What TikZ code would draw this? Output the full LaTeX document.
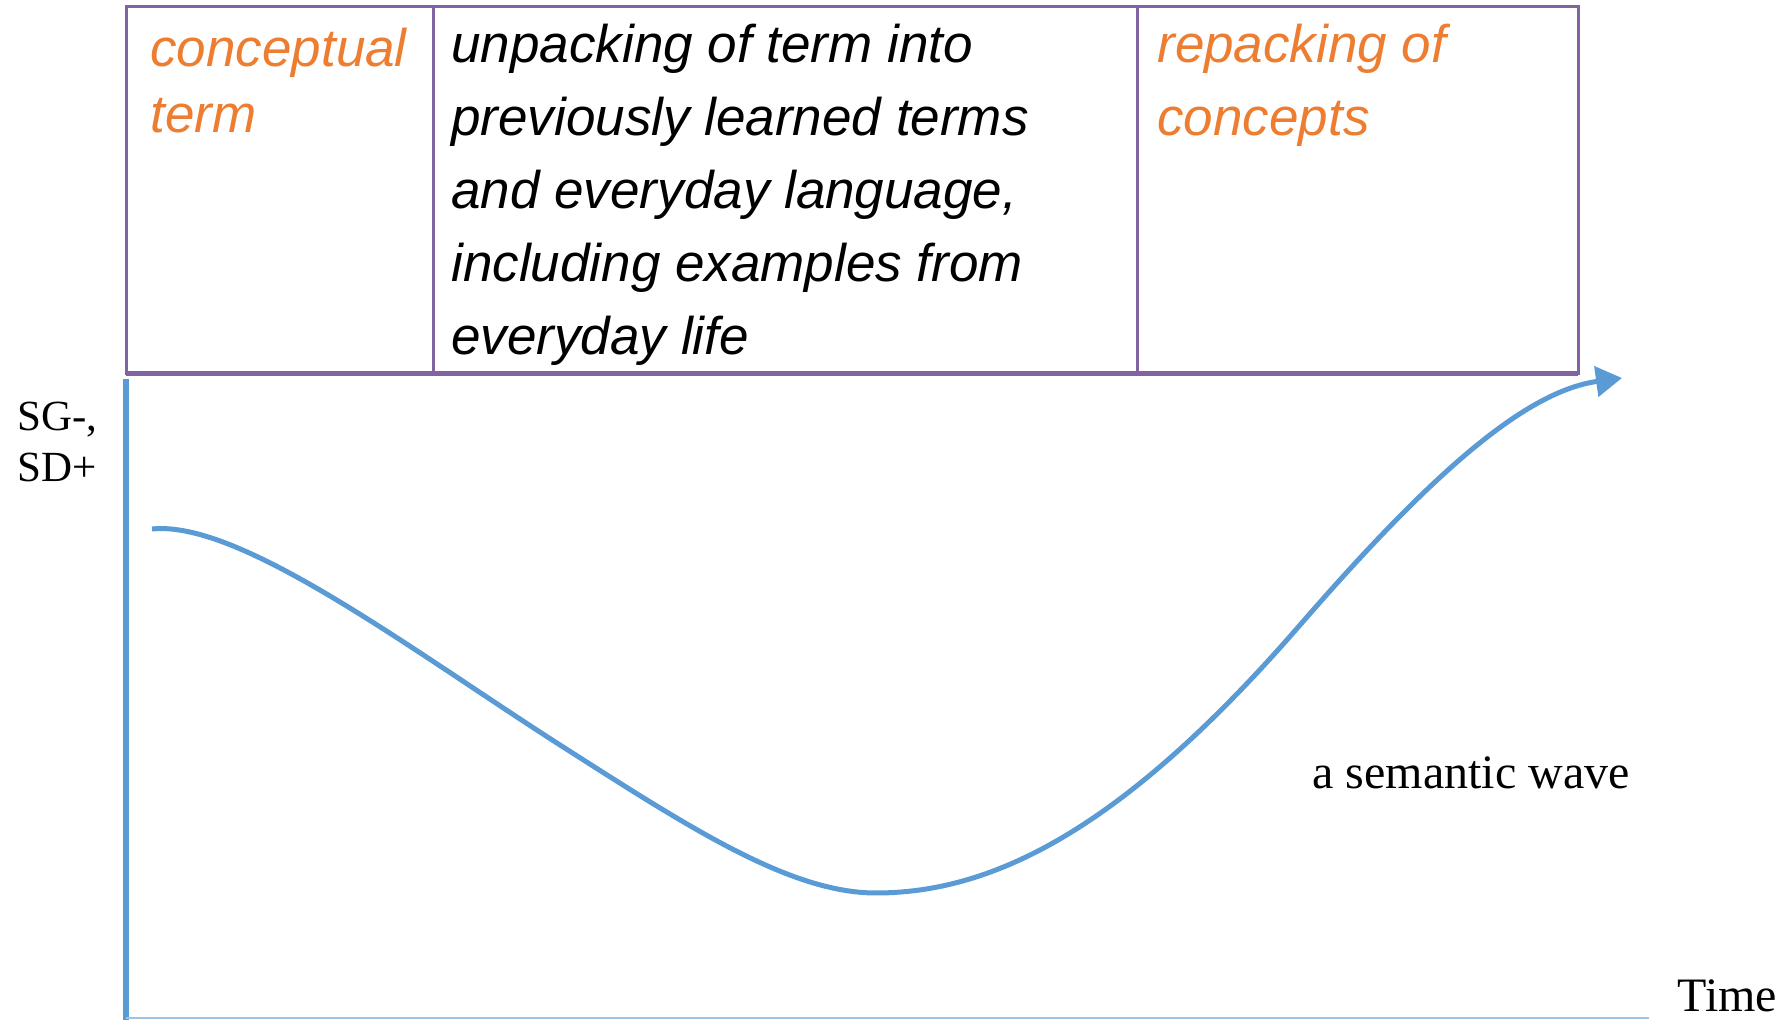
\documentclass[tikz,border=0pt]{standalone}
\usepackage{fontspec}
\setmainfont{Liberation Serif}
\newfontfamily\cellfont{Liberation Sans}
\usetikzlibrary{arrows.meta}
\definecolor{waveblue}{HTML}{5B9BD5}
\definecolor{gridpurple}{HTML}{8064A2}
\definecolor{termorange}{HTML}{ED7D31}
\definecolor{axislight}{HTML}{9DC3E6}

\begin{document}
\begin{tikzpicture}[x=0.5pt,y=-0.5pt,
    celltext/.style={anchor=base west, inner sep=0pt},
    axislabel/.style={anchor=base west, inner sep=0pt, font=\fontsize{24}{25.5}\selectfont}]
    \useasboundingbox (0,0) rectangle (1784,1020);

    % Table frame
    \draw[gridpurple, line width=1.5pt] (126,7) rectangle (1578,374);
    \draw[gridpurple, line width=1.5pt] (433,7) -- (433,374);
    \draw[gridpurple, line width=1.5pt] (1137,7) -- (1137,374);
    \draw[gridpurple, line width=2.5pt] (126,374) -- (1578,374);

    % Cell texts
    \node[celltext, termorange] (concept) at (150,67)
        {\parbox[t]{8cm}{\raggedright\cellfont\itshape\fontsize{26.5}{33}\selectfont conceptual\\term}};
    \node[celltext] (unpack) at (451,63)
        {\parbox[t]{12cm}{\raggedright\cellfont\itshape\fontsize{26.5}{36.5}\selectfont
        unpacking of term into\\previously learned terms\\and everyday language,\\including examples from\\everyday life}};
    \node[celltext, termorange] (repack) at (1157,63)
        {\parbox[t]{8cm}{\raggedright\cellfont\itshape\fontsize{26.5}{36.5}\selectfont repacking of\\concepts}};

    % Axes
    \draw[waveblue, line width=3pt] (126,379) -- (126,1020);
    \draw[axislight, line width=1pt] (126,1018) -- (1649,1018);

    % Semantic wave
    \draw[waveblue, line width=2.5pt, -{Triangle[length=13pt,width=15pt]}]
        (152,529) .. controls (240,520) and (410,649) .. (560,745)
        .. controls (690,828) and (790,893) .. (876,893)
        .. controls (1000,893) and (1130,821) .. (1300,625)
        .. controls (1420,487) and (1520,392) .. (1622,378);

    % Labels
    \node[axislabel] (sgsd) at (17,431)
        {\parbox[t]{3cm}{\raggedright\fontsize{21.5}{25.5}\selectfont SG-,\\SD+}};
    \node[axislabel] (wave) at (1312,789) {a semantic wave};
    \node[axislabel] (time) at (1677,1011) {Time};
\end{tikzpicture}
\end{document}
